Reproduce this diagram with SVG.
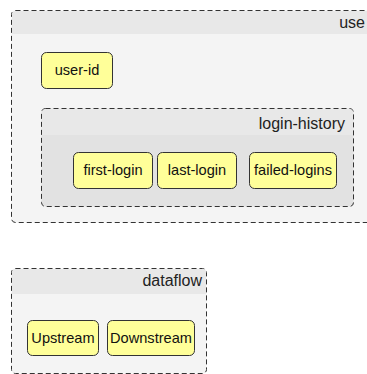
<svg xmlns="http://www.w3.org/2000/svg" width="367" height="374" viewBox="0 0 367 374">
<style>
.cl{fill:#f4f4f4;stroke:#333;stroke-width:1;stroke-dasharray:5,3}
.cl2{fill:#e2e2e2;stroke:#333;stroke-width:1;stroke-dasharray:5,3}
.hd{fill:#e8e8e8}
.nd{fill:#ffff99;stroke:#333;stroke-width:1}
.t{font-family:"Liberation Sans",Arial,sans-serif;font-size:14.6px;fill:#111;text-anchor:middle}
.h{font-family:"Liberation Sans",Arial,sans-serif;font-size:16px;fill:#222;text-anchor:end}
</style>
<rect width="367" height="374" fill="#fff"/>
<g id="cluster-user">
<rect class="cl" x="11.5" y="10.5" width="380" height="212" rx="4"/>
<path class="hd" d="M12,34 V14.5 Q12,11 15.5,11 H391 V34 Z"/>
<text class="h" x="365" y="28">use</text>
</g>
<g id="cluster-login-history">
<rect class="cl2" x="41.5" y="108.5" width="312" height="98" rx="4"/>
<path class="hd" d="M42,135 V112.5 Q42,109 45.5,109 H349.5 Q353,109 353,112.5 V135 Z"/>
<text class="h" x="345" y="129">login-history</text>
</g>
<g id="node-user-id">
<rect class="nd" x="41.5" y="52.5" width="71" height="36" rx="5"/>
<text class="t" x="77" y="75">user-id</text>
</g>
<g id="node-first-login">
<rect class="nd" x="73.5" y="152.5" width="79" height="36" rx="5"/>
<text class="t" x="113" y="175">first-login</text>
</g>
<g id="node-last-login">
<rect class="nd" x="157.5" y="152.5" width="79" height="36" rx="5"/>
<text class="t" x="197" y="175">last-login</text>
</g>
<g id="node-failed-logins">
<rect class="nd" x="249.5" y="152.5" width="87" height="36" rx="5"/>
<text class="t" x="293" y="175">failed-logins</text>
</g>
<g id="cluster-dataflow">
<rect class="cl" x="11.5" y="268.5" width="195" height="105" rx="4"/>
<path class="hd" d="M12,294 V272.5 Q12,269 15.5,269 H202.5 Q206,269 206,272.5 V294 Z"/>
<text class="h" x="202" y="286">dataflow</text>
</g>
<g id="node-upstream">
<rect class="nd" x="27.5" y="320.5" width="71" height="35" rx="5"/>
<text class="t" x="63" y="343">Upstream</text>
</g>
<g id="node-downstream">
<rect class="nd" x="107.5" y="320.5" width="87" height="35" rx="5"/>
<text class="t" x="151" y="343">Downstream</text>
</g>
<g id="connectors"></g>
</svg>
